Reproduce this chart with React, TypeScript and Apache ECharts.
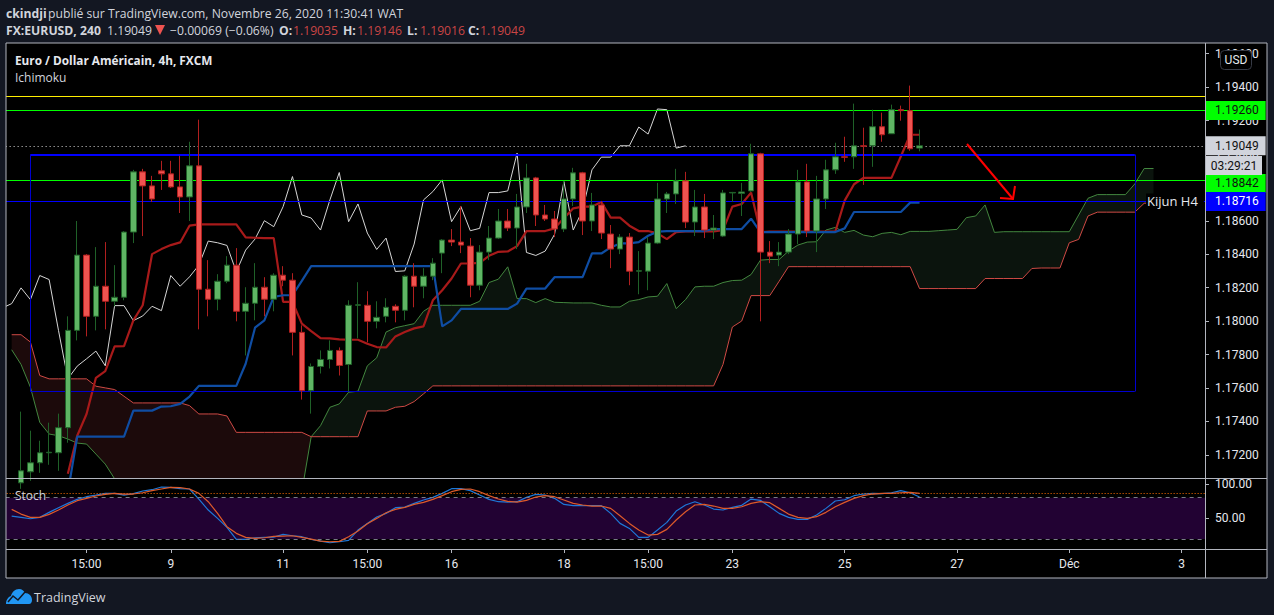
import React, { useEffect, useRef } from "react";
import * as echarts from "echarts";

const TICK_FONT = "Roboto, sans-serif";
const UI_FONT = "'Open Sans', 'Noto Sans', sans-serif";

const barCount = 129;
const categories = Array.from({ length: barCount }, (_, i) => String(i - 1));
const timeTicks: Record<number, string> = { 8: "15:00", 17: "9", 29: "11", 38: "15:00", 47: "16", 59: "18", 68: "15:00", 77: "23", 89: "25", 101: "27", 113: "Déc", 125: "3" };
const priceTicks = [1.172, 1.174, 1.176, 1.178, 1.18, 1.182, 1.184, 1.186, 1.188, 1.19, 1.192, 1.194, 1.196];
const stochTicks = [50, 100];

const opens = [
  null, 1.17033, 1.17099, 1.17153, 1.17213, 1.17213, 1.17363, 1.17945, 1.18395, 1.18029,
  1.18209, 1.18119, 1.18143, 1.18533, 1.18893, 1.18809, 1.18899, 1.18881, 1.18803, 1.18743,
  1.18929, 1.18191, 1.18131, 1.18239, 1.18335, 1.18059, 1.18107, 1.18203, 1.18131, 1.18275,
  1.18245, 1.17933, 1.17585, 1.17729, 1.17771, 1.17825, 1.17741, 1.18095, 1.18095, 1.17999,
  1.18029, 1.18089, 1.18065, 1.18269, 1.18209, 1.18269, 1.18407, 1.18485, 1.18473, 1.18449,
  1.18215, 1.18413, 1.18497, 1.18599, 1.18557, 1.18683, 1.18857, 1.18635, 1.18611, 1.18551,
  1.18731, 1.18887, 1.18599, 1.18695, 1.18521, 1.18431, 1.18503, 1.18299, 1.18299, 1.18467,
  1.18731, 1.18761, 1.18839, 1.18593, 1.18683, 1.18545, 1.18509, 1.18767, 1.18764, 1.18779,
  1.19001, 1.18413, 1.18395, 1.18413, 1.18521, 1.18833, 1.18539, 1.18731, 1.18905, 1.18983,
  1.18983, 1.19049, 1.19049, 1.19163, 1.19121, 1.19265, 1.19259, 1.19035,
];
const closes = [
  null, 1.17105, 1.17153, 1.17213, 1.17216, 1.17363, 1.17945, 1.18395, 1.18029, 1.18209,
  1.18119, 1.18143, 1.18533, 1.18893, 1.18809, 1.18731, 1.18881, 1.18803, 1.18743, 1.18929,
  1.18191, 1.18131, 1.18239, 1.18335, 1.18059, 1.18107, 1.18203, 1.18131, 1.18275, 1.18245,
  1.17933, 1.17585, 1.17729, 1.17771, 1.17825, 1.17735, 1.18095, 1.18098, 1.17999, 1.18023,
  1.18083, 1.18065, 1.18269, 1.18209, 1.18269, 1.18347, 1.18485, 1.18473, 1.18455, 1.18215,
  1.18413, 1.18497, 1.18599, 1.18557, 1.18683, 1.18857, 1.18635, 1.18611, 1.18551, 1.18731,
  1.18887, 1.18599, 1.18695, 1.18527, 1.18431, 1.18503, 1.18299, 1.18302, 1.18467, 1.18731,
  1.18761, 1.18839, 1.18593, 1.18683, 1.18545, 1.18557, 1.18767, 1.1877, 1.18773, 1.19001,
  1.18413, 1.18389, 1.18413, 1.18521, 1.18833, 1.18539, 1.18731, 1.18905, 1.18983, 1.1898,
  1.19049, 1.19046, 1.19163, 1.19115, 1.19265, 1.19259, 1.19031, 1.19049,
];
const lows = [
  null, 1.16997, 1.17045, 1.17093, 1.17141, 1.17105, 1.17273, 1.17885, 1.17909, 1.17945,
  1.17951, 1.18089, 1.18125, 1.18467, 1.18509, 1.18713, 1.18785, 1.18797, 1.18647, 1.18599,
  1.17951, 1.18029, 1.18065, 1.18227, 1.17999, 1.17795, 1.18005, 1.18029, 1.18059, 1.18209,
  1.17795, 1.17531, 1.17447, 1.17687, 1.17717, 1.17675, 1.17579, 1.17897, 1.17873, 1.17957,
  1.17993, 1.17993, 1.18005, 1.18083, 1.18137, 1.18245, 1.18287, 1.18449, 1.18407, 1.18143,
  1.18185, 1.18365, 1.18491, 1.18539, 1.18431, 1.18647, 1.18569, 1.18599, 1.18503, 1.18533,
  1.18689, 1.18515, 1.18539, 1.18491, 1.18317, 1.18401, 1.18215, 1.18161, 1.18185, 1.18461,
  1.18647, 1.18701, 1.18557, 1.18509, 1.18497, 1.18491, 1.18503, 1.18713, 1.18629, 1.18773,
  1.17999, 1.18347, 1.18329, 1.18401, 1.18461, 1.18503, 1.18413, 1.18671, 1.18881, 1.18953,
  1.18911, 1.18815, 1.18923, 1.19073, 1.19121, 1.19199, 1.19019, 1.19016,
];
const highs = [
  null, 1.17459, 1.17345, 1.17285, 1.17393, 1.17447, 1.18029, 1.18599, 1.18401, 1.18443,
  1.18473, 1.18335, 1.18539, 1.18905, 1.18911, 1.18869, 1.18959, 1.18959, 1.18989, 1.19073,
  1.19205, 1.18365, 1.18281, 1.18389, 1.18437, 1.18203, 1.18347, 1.18263, 1.18287, 1.18329,
  1.18287, 1.17975, 1.17747, 1.17825, 1.17885, 1.17843, 1.18125, 1.18233, 1.18179, 1.18119,
  1.18137, 1.18101, 1.18275, 1.18347, 1.18317, 1.18377, 1.18491, 1.18551, 1.18689, 1.18497,
  1.18455, 1.18569, 1.18671, 1.18671, 1.18761, 1.18941, 1.18863, 1.18695, 1.18659, 1.18839,
  1.18917, 1.18893, 1.18767, 1.18719, 1.18575, 1.18521, 1.18527, 1.18419, 1.18503, 1.18827,
  1.18773, 1.18911, 1.18893, 1.18785, 1.18761, 1.18635, 1.18785, 1.18773, 1.18827, 1.19061,
  1.19007, 1.18479, 1.18473, 1.18551, 1.18905, 1.18941, 1.18869, 1.18965, 1.19067, 1.19103,
  1.19301, 1.19157, 1.19265, 1.19247, 1.19295, 1.19289, 1.19409, 1.19146,
];

const chikouLead = 1.18079;
const chikou = [
  1.18105, 1.18199, 1.18129, 1.18273, 1.18249, 1.17945, 1.17655, 1.17731, 1.17775, 1.17821,
  1.17733, 1.18093, 1.18093, 1.18003, 1.18031, 1.18089, 1.18063, 1.18273, 1.18209, 1.18265,
  1.18335, 1.18479, 1.18469, 1.18453, 1.18295, 1.18425, 1.18491, 1.18601, 1.18565, 1.18685,
  1.18865, 1.18635, 1.18617, 1.18545, 1.18725, 1.18889, 1.18595, 1.18701, 1.18527, 1.18429,
  1.18497, 1.18297, 1.18301, 1.18461, 1.18725, 1.18775, 1.18845, 1.18595, 1.18685, 1.18541,
  1.18555, 1.18769, 1.18769, 1.18779, 1.19005, 1.18411, 1.18393, 1.18419, 1.18519, 1.18835,
  1.18545, 1.18665, 1.18905, 1.18981, 1.18981, 1.19049, 1.19049, 1.19161, 1.19119, 1.19269,
  1.19265, 1.19035, 1.19049,
];
const tenkan = [
  null, null, null, null, null, null, 1.17087, 1.17315, 1.17445, 1.17661,
  1.17701, 1.17849, 1.17851, 1.18005, 1.18095, 1.18401, 1.18431, 1.18455, 1.18471, 1.18571,
  1.18579, 1.18579, 1.18579, 1.18579, 1.18579, 1.18501, 1.18499, 1.18497, 1.18497, 1.18115,
  1.18115, 1.17985, 1.17941, 1.17899, 1.17897, 1.17891, 1.17889, 1.17889, 1.17865, 1.17845,
  1.17843, 1.17909, 1.17935, 1.17957, 1.17969, 1.18125, 1.18185, 1.18255, 1.18345, 1.18345,
  1.18349, 1.18391, 1.18415, 1.18417, 1.18449, 1.18539, 1.18539, 1.18539, 1.18555, 1.18615,
  1.18675, 1.18685, 1.18685, 1.18713, 1.18619, 1.18619, 1.18571, 1.18539, 1.18539, 1.18525,
  1.18491, 1.18533, 1.18537, 1.18537, 1.18537, 1.18537, 1.18545, 1.18685, 1.18701, 1.18769,
  1.18533, 1.18535, 1.18535, 1.18535, 1.18535, 1.18535, 1.18535, 1.18535, 1.18535, 1.18721,
  1.18819, 1.18857, 1.18857, 1.18857, 1.18857, 1.18985, 1.19115, 1.19115,
];
const kijun = [
  null, null, null, null, null, null, 1.16975, 1.17309, 1.17309, 1.17309,
  1.17309, 1.17309, 1.17309, 1.17465, 1.17465, 1.17465, 1.17489, 1.17491, 1.17505, 1.17549,
  1.17613, 1.17613, 1.17613, 1.17613, 1.17613, 1.17745, 1.17961, 1.18005, 1.18145, 1.18155,
  1.18155, 1.18241, 1.18329, 1.18329, 1.18329, 1.18329, 1.18329, 1.18329, 1.18329, 1.18329,
  1.18329, 1.18329, 1.18329, 1.18329, 1.18329, 1.18329, 1.17969, 1.18005, 1.18073, 1.18073,
  1.18073, 1.18073, 1.18073, 1.18073, 1.18105, 1.18195, 1.18195, 1.18195, 1.18263, 1.18263,
  1.18263, 1.18263, 1.18405, 1.18405, 1.18441, 1.18465, 1.18465, 1.18473, 1.18511, 1.18535,
  1.18539, 1.18539, 1.18539, 1.18539, 1.18539, 1.18551, 1.18551, 1.18551, 1.18551, 1.18613,
  1.18533, 1.18533, 1.18533, 1.18533, 1.18533, 1.18533, 1.18533, 1.18533, 1.18533, 1.18555,
  1.18653, 1.18653, 1.18653, 1.18653, 1.18653, 1.18653, 1.18709, 1.18709,
];
const senkouA = [
  1.17829, 1.17741, 1.17605, 1.17395, 1.17325, 1.17315, 1.17295, 1.17271, 1.17265, 1.17205,
  1.17145, 1.17057, 1.16985, 1.169, 1.169, 1.169, 1.169, 1.169, 1.169, 1.169,
  1.169, 1.169, 1.169, 1.169, 1.169, 1.169, 1.169, 1.169, 1.169, 1.169,
  1.169, 1.16981, 1.17309, 1.17375, 1.17485, 1.17505, 1.17575, 1.17581, 1.17733, 1.17781,
  1.17935, 1.17961, 1.17973, 1.17985, 1.18059, 1.18095, 1.18095, 1.18095, 1.18095, 1.18095,
  1.18119, 1.18231, 1.18251, 1.18325, 1.18135, 1.18135, 1.18111, 1.18135, 1.18113, 1.18111,
  1.18109, 1.18109, 1.18109, 1.18095, 1.18085, 1.18085, 1.18119, 1.18129, 1.18145, 1.18149,
  1.18225, 1.18075, 1.18129, 1.18205, 1.18209, 1.18209, 1.18231, 1.18243, 1.18245, 1.18279,
  1.18365, 1.18369, 1.18369, 1.18419, 1.18455, 1.18473, 1.18475, 1.18545, 1.18561, 1.18531,
  1.18543, 1.18515, 1.18505, 1.18525, 1.18531, 1.18517, 1.18537, 1.18537, 1.18537, 1.18541,
  1.18545, 1.18549, 1.18619, 1.18629, 1.18695, 1.18531, 1.18535, 1.18535, 1.18535, 1.18535,
  1.18535, 1.18535, 1.18535, 1.18535, 1.18635, 1.18735, 1.18757, 1.18757, 1.18757, 1.18757,
  1.18821, 1.18913, 1.18913,
];
const senkouB = [
  1.17919, 1.17919, 1.17875, 1.17675, 1.17655, 1.17655, 1.17655, 1.17655, 1.17655, 1.17611,
  1.17601, 1.17591, 1.17551, 1.17511, 1.17511, 1.17511, 1.17511, 1.17511, 1.17511, 1.17495,
  1.17445, 1.17445, 1.17445, 1.17433, 1.17335, 1.17335, 1.17335, 1.17335, 1.17335, 1.17335,
  1.17335, 1.17335, 1.17309, 1.17309, 1.17309, 1.17309, 1.17309, 1.17309, 1.17463, 1.17463,
  1.17463, 1.17485, 1.17491, 1.17519, 1.17565, 1.17613, 1.17613, 1.17613, 1.17613, 1.17613,
  1.17613, 1.17613, 1.17613, 1.17613, 1.17613, 1.17613, 1.17613, 1.17613, 1.17613, 1.17613,
  1.17613, 1.17613, 1.17613, 1.17613, 1.17613, 1.17613, 1.17613, 1.17613, 1.17613, 1.17613,
  1.17613, 1.17613, 1.17613, 1.17613, 1.17613, 1.17613, 1.17741, 1.17965, 1.18001, 1.18153,
  1.18153, 1.18153, 1.18239, 1.18326, 1.18326, 1.18326, 1.18326, 1.18326, 1.18326, 1.18326,
  1.18326, 1.18326, 1.18326, 1.18326, 1.18326, 1.18326, 1.18326, 1.18195, 1.18195, 1.18195,
  1.18195, 1.18195, 1.18195, 1.18195, 1.18255, 1.18255, 1.18255, 1.18255, 1.18255, 1.18315,
  1.18318, 1.18318, 1.18318, 1.18469, 1.18489, 1.18629, 1.18652, 1.18652, 1.18652, 1.18652,
  1.18652, 1.18705, 1.18709,
];
const cloudCross = 32;

const stochK = [
  53.3, 51.4, 49.4, 51.4, 58.7, 65.5, 71.8, 77.6, 81.5, 83.9,
  86.4, 86.4, 83.9, 85.9, 89.8, 91.7, 95.6, 95.1, 93.2, 92.7,
  78.1, 62.1, 49.9, 36.8, 19.3, 19.3, 21.7, 22.2, 22.7, 26.6,
  24.6, 23.2, 19.3, 16.9, 14.4, 15.9, 17.8, 32.9, 42.6, 51.9,
  57.2, 65.5, 66.4, 71.8, 76.7, 80.5, 86.4, 93.2, 93.2, 90.3,
  83.9, 77.6, 74.2, 73.7, 74.2, 80.5, 84.9, 83.9, 79.1, 70.3,
  68.4, 68.4, 68.4, 68.4, 57.2, 42.6, 35.3, 22.2, 22.2, 32.9,
  44.1, 60.6, 69.4, 74.2, 69.4, 63.5, 62.1, 66, 68.9, 78.1,
  76.2, 66.9, 57.2, 51.4, 48.5, 48.5, 54.8, 64.5, 75.2, 77.1,
  83, 85.4, 86.4, 85.9, 87.3, 90.3, 87.3, 81,
];
const stochD = [
  63, 56.2, 51.4, 51.4, 55.8, 62.1, 69.4, 75.7, 79.1, 82.5,
  84.9, 86.4, 85.4, 85.4, 87.3, 90.3, 92.7, 95.1, 94.6, 92.7,
  86.4, 74.2, 57.2, 37.8, 28.1, 22.2, 20.8, 21.7, 23.7, 24.2,
  24.6, 22.2, 19.8, 16.9, 15.9, 16.4, 23.2, 31.5, 42.1, 49.9,
  58.2, 63, 66, 70.3, 73.3, 77.6, 83, 88.8, 92.2, 92.7,
  88.8, 83, 78.1, 74.7, 73.7, 76.2, 81, 83, 81.5, 76.7,
  71.8, 69.4, 67.9, 67.9, 64.5, 53.8, 42.6, 32.9, 25.6, 26.6,
  33.9, 47.5, 59.6, 69.4, 70.3, 67.9, 64.5, 64.5, 66.9, 71.8,
  74.2, 72.8, 64.5, 56.2, 51.4, 49.9, 52.4, 58.7, 66.9, 73.3,
  79.1, 83, 85.4, 86.4, 86.4, 87.3, 87.8, 86.4,
];

const yellowLevel = 1.193437;
const greenLevels = [1.1926, 1.18842];
const blueLevel = 1.18716;
const lastPrice = 1.19049;
const boxTop = 1.189968;
const boxBottom = 1.175794;
const boxFrom = 2;
const boxTo = 120;
const stochUpper = 80;
const stochLower = 20;
const stochSignal = 86.4;

type Run = [string, number, number, string, boolean];
const headerRuns: Run[] = [
  ["ckindji", 6, 13, "#d1d4dc", true],
  ["publié sur TradingView.com, Novembre 26, 2020 11:30:41 WAT", 48, 13, "#d1d4dc", false],
  ["FX:EURUSD, 240", 6, 30, "#d1d4dc", true],
  ["1.19049", 107, 30, "#d1d4dc", false],
  ["−0.00069 (−0.06%)", 170, 30, "#d1d4dc", false],
  ["O:", 279, 30, "#d1d4dc", true],
  ["1.19035", 293, 30, "#c94545", false],
  ["H:", 343, 30, "#d1d4dc", true],
  ["1.19146", 357, 30, "#c94545", false],
  ["L:", 407, 30, "#d1d4dc", true],
  ["1.19016", 420, 30, "#c94545", false],
  ["C:", 468, 30, "#d1d4dc", true],
  ["1.19049", 480, 30, "#c94545", false],
];

echarts.graphic.registerShape(
  "tvCloud",
  echarts.graphic.extendPath(
    "M0 15 C0 11 2 8 5 7 C6 3 9 0 13 0 C16 0 18 2 19 4 C23 4 26 7 26 11 C26 13 25 15 23 15 Z",
    {}
  )
);

const HIDE = { show: false };
const pad = (values: any[]) => [null, ...values];
// The canvas starts 10px left of the page, so the one lead bar (which the lagging line needs) fits.
const BLEED = 10;

export default function App() {
  const ref = useRef<HTMLDivElement>(null);
  useEffect(() => {
    document.body.style.margin = "0";
    document.body.style.background = "#131722";
    document.body.style.overflow = "hidden";
    const chart = echarts.init(ref.current!, null, { renderer: "svg" });
    const tickInterval = (i: number) => timeTicks[i - 1] !== undefined;
    const candles = [
      ["-", "-", "-", "-"],
      ...opens.map((o, i) => (o === null ? ["-", "-", "-", "-"] : [o, closes[i], lows[i], highs[i]])),
    ];
    const priceLabel = (bg: string, color: string, dy = 0) => ({
      show: true,
      position: "end",
      distance: 0,
      offset: [0, dy],
      formatter: (p: any) => Number(p.value).toFixed(5),
      backgroundColor: bg,
      color,
      fontFamily: TICK_FONT,
      fontSize: 12,
      lineHeight: 13,
      padding: [3, 7, 3, 10],
    });
    const thinLine = (name: string, data: any[], color: string, width: number, z: number) => ({
      name,
      type: "line",
      data,
      xAxisIndex: 0,
      yAxisIndex: 0,
      symbol: "none",
      silent: true,
      z,
      lineStyle: { color, width },
    });

    chart.setOption({
      animation: false,
      backgroundColor: "#131722",
      tooltip: { show: false },
      grid: [
        { left: BLEED - 2.36, top: 44, width: 1207.36, height: 434, containLabel: false },
        { left: BLEED - 2.36, top: 479, width: 1207.36, height: 70, containLabel: false },
      ],
      xAxis: [
        { type: "category", gridIndex: 0, data: categories, boundaryGap: true, show: false },
        {
          type: "category",
          gridIndex: 1,
          data: categories,
          boundaryGap: true,
          position: "bottom",
          axisLine: HIDE,
          splitLine: HIDE,
          axisTick: { show: true, alignWithLabel: true, interval: tickInterval, length: 4, lineStyle: { color: "#b2b5be" } },
          axisLabel: {
            interval: tickInterval,
            formatter: (v: string) => timeTicks[Number(v)] ?? "",
            color: "#e6e8ee",
            fontFamily: TICK_FONT,
            fontSize: 12,
            margin: 9,
            hideOverlap: false,
          },
        },
      ],
      yAxis: [
        {
          type: "value",
          gridIndex: 0,
          position: "right",
          min: 1.17062,
          max: 1.196577,
          scale: true,
          axisLine: HIDE,
          splitLine: HIDE,
          axisTick: { show: true, length: 4, customValues: priceTicks, lineStyle: { color: "#b2b5be" } },
          axisLabel: {
            customValues: priceTicks,
            formatter: (v: number) => v.toFixed(5),
            color: "#e6e8ee",
            fontFamily: TICK_FONT,
            fontSize: 12,
            margin: 10,
          },
        },
        {
          type: "value",
          gridIndex: 1,
          position: "right",
          min: 5.3,
          max: 107.3,
          axisLine: HIDE,
          splitLine: HIDE,
          axisTick: { show: true, length: 4, customValues: stochTicks, lineStyle: { color: "#b2b5be" } },
          axisLabel: {
            customValues: stochTicks,
            formatter: (v: number) => v.toFixed(2),
            color: "#e6e8ee",
            fontFamily: TICK_FONT,
            fontSize: 12,
            margin: 10,
          },
        },
      ],
      series: [
        {
          type: "custom",
          name: "cloud",
          coordinateSystem: "cartesian2d",
          xAxisIndex: 0,
          yAxisIndex: 0,
          silent: true,
          z: 1,
          clip: true,
          data: [[0, 0], [1, 1]],
          renderItem: (params: any, api: any) => {
            const bearish = params.dataIndex === 0;
            const from = bearish ? 0 : cloudCross;
            const to = bearish ? cloudCross : senkouA.length - 1;
            const points: number[][] = [];
            for (let i = from; i <= to; i++) points.push(api.coord([i + 1, senkouA[i]]));
            for (let i = to; i >= from; i--) points.push(api.coord([i + 1, senkouB[i]]));
            return {
              type: "polygon",
              shape: { points },
              style: { fill: bearish ? "#1c0a0b" : "#0b140d" },
            };
          },
        },
        {
          name: "levels",
          type: "line",
          data: [],
          xAxisIndex: 0,
          yAxisIndex: 0,
          z: 2,
          silent: true,
          markLine: {
            silent: true,
            symbol: "none",
            animation: false,
            precision: 6,
            data: [
              { yAxis: yellowLevel, lineStyle: { color: "#ffee00", width: 1, type: "solid" }, label: { show: false } },
              { yAxis: greenLevels[0], lineStyle: { color: "#00ff00", width: 1, type: "solid" }, label: priceLabel("#00ff00", "#111111") },
              { yAxis: greenLevels[1], lineStyle: { color: "#00ff00", width: 1, type: "solid" }, label: priceLabel("#00ff00", "#111111", 3) },
              { yAxis: blueLevel, lineStyle: { color: "#0000ff", width: 1, type: "solid" }, label: priceLabel("#0000ff", "#ffffff") },
              { yAxis: lastPrice, lineStyle: { color: "#d8d8d8", width: 1, type: [1, 3] }, label: priceLabel("#d1d4dc", "#111111") },
              [
                { coord: [boxFrom + 1, boxTop], lineStyle: { color: "#0000ff", width: 2, type: "solid" }, label: { show: false } },
                { coord: [boxTo + 1, boxTop] },
              ],
              [
                { coord: [boxFrom + 1, boxBottom], lineStyle: { color: "#0000d0", width: 1, type: "solid" }, label: { show: false } },
                { coord: [boxTo + 1, boxBottom] },
              ],
              [
                { coord: [boxFrom + 1, boxTop], lineStyle: { color: "#0000d0", width: 1, type: "solid" }, label: { show: false } },
                { coord: [boxFrom + 1, boxBottom] },
              ],
              [
                { coord: [boxTo + 1, boxTop], lineStyle: { color: "#0000d0", width: 1, type: "solid" }, label: { show: false } },
                { coord: [boxTo + 1, boxBottom] },
              ],
            ],
          },
        },
        thinLine("Senkou A", pad(senkouA), "#43873f", 1, 3),
        thinLine("Senkou B", pad(senkouB), "#cf4a45", 1, 3),
        thinLine("Chikou", [chikouLead, ...chikou], "#d6d6d6", 1, 4),
        thinLine("Tenkan", pad(tenkan), "#a81a1a", 2.2, 4),
        thinLine("Kijun", pad(kijun), "#0f4da3", 2.2, 4),
        {
          name: "FX:EURUSD",
          type: "candlestick",
          xAxisIndex: 0,
          yAxisIndex: 0,
          data: candles,
          barWidth: 6,
          z: 6,
          silent: true,
          clip: true,
          itemStyle: {
            color: "#5fb564",
            color0: "#ef5350",
            borderColor: "#1f6128",
            borderColor0: "#b11f1f",
            borderWidth: 1,
          },
        },
        {
          name: "Stoch levels",
          type: "line",
          data: [],
          xAxisIndex: 1,
          yAxisIndex: 1,
          z: 2,
          silent: true,
          markArea: {
            silent: true,
            animation: false,
            itemStyle: { color: "#220233" },
            data: [[{ yAxis: stochUpper }, { yAxis: stochLower }]],
          },
          markLine: {
            silent: true,
            symbol: "none",
            animation: false,
            label: { show: false },
            data: [
              { yAxis: stochUpper, lineStyle: { color: "#787b86", width: 1, type: [4, 4] } },
              { yAxis: stochLower, lineStyle: { color: "#787b86", width: 1, type: [4, 4] } },
              { yAxis: stochSignal, lineStyle: { color: "#ff6d00", width: 1, type: [1, 2] } },
            ],
          },
        },
        {
          name: "%K",
          type: "line",
          data: pad(stochK),
          xAxisIndex: 1,
          yAxisIndex: 1,
          symbol: "none",
          silent: true,
          z: 4,
          lineStyle: { color: "#1e78d8", width: 1.2 },
        },
        {
          name: "%D",
          type: "line",
          data: pad(stochD),
          xAxisIndex: 1,
          yAxisIndex: 1,
          symbol: "none",
          silent: true,
          z: 5,
          lineStyle: { color: "#dd5a2a", width: 1.2 },
        },
      ],
      graphic: [
        {
          type: "group",
          x: BLEED,
          y: 0,
          children: [
            { type: "rect", z: -10, silent: true, shape: { x: 6, y: 43, width: 1261, height: 535 }, style: { fill: "#000000" } },
            { type: "rect", z: 49, silent: true, shape: { x: -10, y: 43, width: 16, height: 535 }, style: { fill: "#131722" } },
            { type: "rect", z: 50, silent: true, shape: { x: 6, y: 43, width: 1261, height: 535 }, style: { fill: "none", stroke: "#b2b5be", lineWidth: 1 } },
            { type: "line", z: 50, silent: true, shape: { x1: 6, y1: 478.5, x2: 1267, y2: 478.5 }, style: { stroke: "#b2b5be", lineWidth: 1 } },
            { type: "line", z: 50, silent: true, shape: { x1: 6, y1: 549.5, x2: 1267, y2: 549.5 }, style: { stroke: "#b2b5be", lineWidth: 1 } },
            { type: "line", z: 50, silent: true, shape: { x1: 1205.5, y1: 43, x2: 1205.5, y2: 578 }, style: { stroke: "#b2b5be", lineWidth: 1 } },
            ...headerRuns.map(([text, x, y, fill, bold]) => ({
              type: "text",
              z: 60,
              silent: true,
              x,
              y,
              style: { text, fill, fontFamily: UI_FONT, fontSize: 12.2, fontWeight: bold ? 700 : 400, verticalAlign: "middle" },
            })),
            { type: "polygon", z: 60, silent: true, shape: { points: [[155, 25], [165, 25], [160, 35]] }, style: { fill: "#ef5350" } },
            { type: "text", z: 60, silent: true, x: 15, y: 60, style: { text: "Euro / Dollar Américain, 4h, FXCM", fill: "#e6e8ee", fontFamily: UI_FONT, fontSize: 11.8, fontWeight: 700, verticalAlign: "middle" } },
            { type: "text", z: 60, silent: true, x: 15, y: 77, style: { text: "Ichimoku", fill: "#d1d4dc", fontFamily: UI_FONT, fontSize: 12, verticalAlign: "middle" } },
            { type: "text", z: 60, silent: true, x: 15, y: 495, style: { text: "Stoch", fill: "#d1d4dc", fontFamily: UI_FONT, fontSize: 12, verticalAlign: "middle" } },
            { type: "polyline", z: 40, silent: true, shape: { points: [[967, 144], [1013, 199]] }, style: { stroke: "#ff0000", lineWidth: 2, fill: "none" } },
            { type: "polyline", z: 40, silent: true, shape: { points: [[1000, 198], [1013, 199], [1015, 186]] }, style: { stroke: "#ff0000", lineWidth: 2, fill: "none" } },
            { type: "text", z: 40, silent: true, x: 1146, y: 201, style: { text: "Kijun H4", fill: "#e6e8ee", fontFamily: UI_FONT, fontSize: 13, verticalAlign: "middle", backgroundColor: "#000000", padding: [1, 6, 1, 1] } },
            { type: "rect", z: 45, silent: true, shape: { x: 1206, y: 156, width: 56, height: 19 }, style: { fill: "#d1d4dc" } },
            { type: "text", z: 46, silent: true, x: 1234, y: 165.5, style: { text: "03:29:21", fill: "#111111", fontFamily: TICK_FONT, fontSize: 12, align: "center", verticalAlign: "middle" } },
            { type: "rect", z: 45, silent: true, shape: { x: 1220.5, y: 50.5, width: 31, height: 19, r: 4 }, style: { fill: "#000000", stroke: "#363a45", lineWidth: 1 } },
            { type: "text", z: 46, silent: true, x: 1236, y: 60, style: { text: "USD", fill: "#e6e8ee", fontFamily: TICK_FONT, fontSize: 12, align: "center", verticalAlign: "middle" } },
            { type: "tvCloud", z: 60, silent: true, x: 6, y: 589, style: { fill: "#2196f3" } },
            { type: "polyline", z: 61, silent: true, shape: { points: [[8, 602], [13, 596], [18, 600], [25, 592]] }, style: { stroke: "#131722", lineWidth: 1.5, fill: "none" } },
            { type: "text", z: 60, silent: true, x: 34, y: 597, style: { text: "TradingView", fill: "#d1d4dc", fontFamily: UI_FONT, fontSize: 12.5, verticalAlign: "middle" } },
          ],
        },
      ],
    });
    return () => chart.dispose();
  }, []);
  return <div ref={ref} style={{ position: "fixed", left: -BLEED, top: 0, width: 1274 + BLEED, height: 615 }} />;
}
